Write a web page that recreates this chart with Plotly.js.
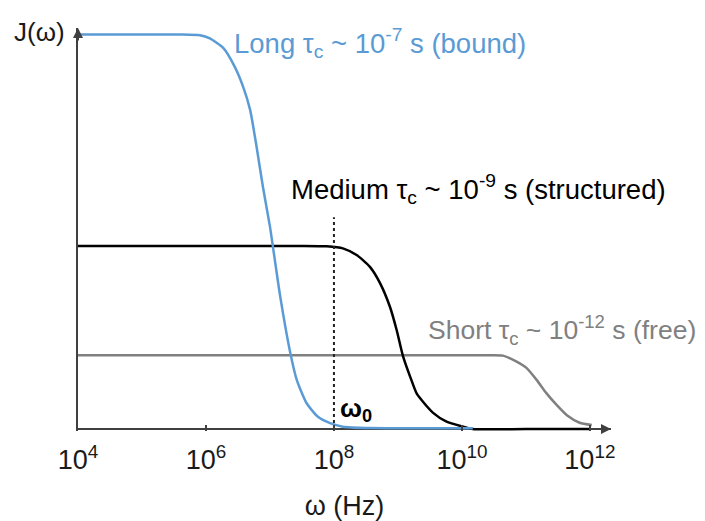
<!DOCTYPE html>
<html>
<head>
<meta charset="utf-8">
<script src="https://cdn.plot.ly/plotly-3.0.1.min.js"></script>
<style>
  html, body { margin: 0; padding: 0; background: #ffffff; }
  #chart { width: 705px; height: 521px; }
</style>
</head>
<body>
<div id="chart"></div>
<script>
// ---- Data (ω in Hz, J(ω) in relative units) ----
const longOmega   = [1e4, 1e5, 4e5, 8.05e5, 1.15e6, 1.86e6, 2.82e6, 3.8e6, 4.9e6, 6.17e6, 7.76e6, 1.0e7, 1.15e7, 1.45e7, 2.14e7, 2.63e7, 3.72e7, 5.62e7, 8.7e7, 1.38e8, 3.63e8, 1e9, 1.48e10];
const longJ       = [1.0, 1.0, 1.0, 0.998, 0.990, 0.966, 0.918, 0.868, 0.809, 0.716, 0.614, 0.513, 0.446, 0.335, 0.183, 0.124, 0.066, 0.031, 0.015, 0.006, 0.0025, 0.002, 0.002];

const mediumOmega = [1e4, 1e6, 3e7, 7.7e7, 1.38e8, 2.26e8, 3.65e8, 5.25e8, 7.5e8, 9.55e8, 1.2e9, 1.55e9, 1.95e9, 2.34e9, 3.55e9, 5.75e9, 1.05e10, 1.48e10, 1e11, 1e12];
const mediumJ     = [0.464, 0.464, 0.464, 0.463, 0.458, 0.441, 0.411, 0.370, 0.310, 0.251, 0.185, 0.133, 0.091, 0.0735, 0.041, 0.0185, 0.006, 0.0, 0.0, 0.0];

const shortOmega  = [1e4, 1e6, 1e8, 1e9, 1e10, 2.5e10, 4.37e10, 7.16e10, 1.02e11, 1.48e11, 2.09e11, 3.02e11, 4.37e11, 6.92e11, 1.07e12];
const shortJ      = [0.187, 0.187, 0.187, 0.187, 0.187, 0.187, 0.186, 0.171, 0.155, 0.124, 0.091, 0.061, 0.035, 0.016, 0.010];

const omega0      = 1e8;
const omega0Top   = 0.537;

const tickValues  = [1e4, 1e6, 1e8, 1e10, 1e12];
const tickLabels  = ['10<sup>4</sup>', '10<sup>6</sup>', '10<sup>8</sup>', '10<sup>10</sup>', '10<sup>12</sup>'];

const seriesLabels = {
  long:   'Long τ<sub>c</sub> ~ 10<sup>-7</sup> s (bound)',
  medium: 'Medium τ<sub>c</sub> ~ 10<sup>-9</sup> s (structured)',
  short:  'Short τ<sub>c</sub> ~ 10<sup>-12</sup> s (free)'
};

// ---- Styles ----
const FONT = '"Liberation Sans", Arial, Helvetica, sans-serif';
const BLUE = '#5b9bd5', BLACK = '#000000', GREY = '#808080', AXIS = '#404040';

const traces = [
  { x: shortOmega, y: shortJ, mode: 'lines', line: { color: GREY, width: 2.5, shape: 'spline', smoothing: 0.6 }, hoverinfo: 'skip' },
  { x: mediumOmega, y: mediumJ, mode: 'lines', line: { color: BLACK, width: 2.5, shape: 'spline', smoothing: 0.6 }, hoverinfo: 'skip' },
  { x: longOmega, y: longJ, mode: 'lines', line: { color: BLUE, width: 2.5, shape: 'spline', smoothing: 0.6 }, hoverinfo: 'skip' },
  { x: [omega0, omega0], y: [0, omega0Top], mode: 'lines', line: { color: '#222222', width: 2, dash: 'dot' }, hoverinfo: 'skip' }
];

const xMaxLog = 12.33, yMax = 1.0165;

const layout = {
  width: 705, height: 521,
  margin: { l: 78, r: 94, t: 28, b: 90 },
  paper_bgcolor: '#ffffff', plot_bgcolor: '#ffffff',
  showlegend: false,
  font: { family: FONT, color: '#1a1a1a' },
  xaxis: {
    type: 'log', range: [4, xMaxLog],
    showgrid: false, zeroline: false, showline: false,
    tickvals: tickValues, ticktext: tickLabels,
    ticks: 'inside', ticklen: 6, tickwidth: 2, tickcolor: AXIS,
    ticklabelstandoff: 10,
    tickfont: { family: FONT, size: 27, color: '#1a1a1a' },
    title: { text: 'ω (Hz)', font: { family: FONT, size: 27, color: '#1a1a1a' }, standoff: 22 }
  },
  yaxis: {
    range: [-0.005, yMax],
    showgrid: false, showticklabels: false, ticks: '',
    zeroline: true, zerolinecolor: AXIS, zerolinewidth: 2,
    showline: true, linecolor: AXIS, linewidth: 2
  },
  annotations: [
    // axis arrowheads
    { x: xMaxLog, y: 0, xref: 'x', yref: 'y', ax: -14, ay: 0, text: '', showarrow: true, arrowhead: 2, arrowsize: 1, arrowwidth: 2, arrowcolor: AXIS },
    { x: 4, y: yMax, xref: 'x', yref: 'y', ax: 0, ay: 14, text: '', showarrow: true, arrowhead: 2, arrowsize: 1, arrowwidth: 2, arrowcolor: AXIS },
    // y axis label
    { x: 12, y: 32, xref: 'paper', yref: 'paper', text: 'J(ω)', showarrow: false, xanchor: 'left', yanchor: 'middle',
      font: { family: FONT, size: 26, color: '#1a1a1a' } },
    // series labels
    { x: 6.41, y: 0.978, xref: 'x', yref: 'y', text: seriesLabels.long, showarrow: false, xanchor: 'left', yanchor: 'middle',
      font: { family: FONT, size: 27.5, color: BLUE } },
    { x: 7.3, y: 0.608, xref: 'x', yref: 'y', text: seriesLabels.medium, showarrow: false, xanchor: 'left', yanchor: 'middle',
      font: { family: FONT, size: 27.5, color: BLACK } },
    { x: 9.44, y: 0.25, xref: 'x', yref: 'y', text: seriesLabels.short, showarrow: false, xanchor: 'left', yanchor: 'middle',
      font: { family: FONT, size: 26.5, color: GREY } },
    // omega0 label
    { x: 8, y: 0.05, xref: 'x', yref: 'y', xshift: 4, text: '<b>ω<sub>0</sub></b>', showarrow: false, xanchor: 'left', yanchor: 'middle',
      font: { family: FONT, size: 26, color: BLACK } }
  ]
};

// J(ω) annotation positioned in pixels -> convert to paper coords
(function () {
  const plotW = 705 - layout.margin.l - layout.margin.r;
  const plotH = 521 - layout.margin.t - layout.margin.b;
  const a = layout.annotations[2];
  a.x = (12 - layout.margin.l) / plotW;
  a.y = (521 - layout.margin.b - 32) / plotH;
})();

Plotly.newPlot('chart', traces, layout, { staticPlot: true, displayModeBar: false });
</script>
</body>
</html>
